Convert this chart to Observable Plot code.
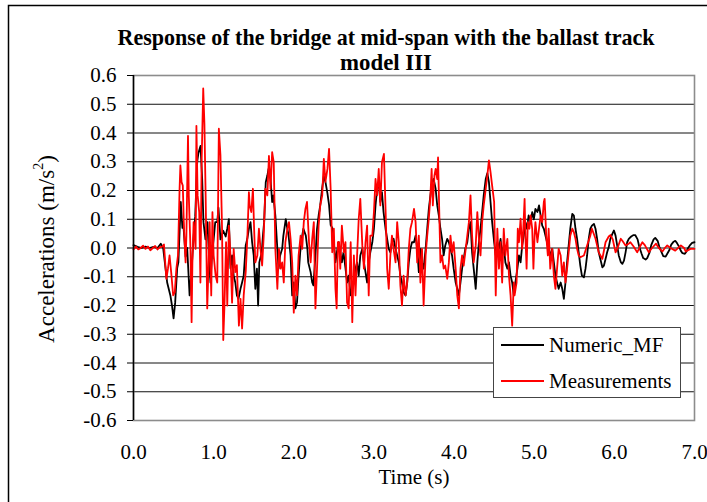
<!DOCTYPE html>
<html><head><meta charset="utf-8">
<script src="https://cdn.jsdelivr.net/npm/d3@7"></script>
<script src="https://cdn.jsdelivr.net/npm/@observablehq/plot@0.6"></script>
<style>html,body{margin:0;padding:0;background:#fff;} #chart{width:707px;height:502px;overflow:hidden;}</style>
</head><body><div id="chart"></div>
<script>
const titleLines = ["Response of the bridge at mid-span with the ballast track", "model III"];
const xLabel = "Time (s)";
const yLabelMain = "Accelerations (m/s";
const yLabelSup = "2";
const seriesNames = ["Numeric_MF", "Measurements"];
const seriesColors = ["#000000", "#ff0000"];
const xTicks = [0, 1, 2, 3, 4, 5, 6, 7];
const yTicks = [-0.6, -0.5, -0.4, -0.3, -0.2, -0.1, 0, 0.1, 0.2, 0.3, 0.4, 0.5, 0.6];
const gridValues = [-0.5, -0.4, -0.3, -0.2, -0.1, 0, 0.1, 0.2, 0.3, 0.4, 0.5];

// [time (s), acceleration (m/s^2)]
const numericMF = [
[0,0.01],[0.05,0.004],[0.1,0.0],[0.15,0.005],[0.2,0.0],[0.25,0.004],[0.3,0.0],[0.34,0.015],[0.37,0.0],
[0.42,-0.12],[0.46,-0.165],[0.48,-0.2],[0.5,-0.245],[0.52,-0.19],[0.545,-0.07],[0.56,-0.05],[0.59,0.16],[0.61,0.07],[0.62,0.09],[0.65,-0.03],[0.67,0.0],[0.70,-0.165],[0.73,-0.05],[0.75,0.04],[0.77,0.11],[0.795,0.30],[0.81,0.33],[0.836,0.355],[0.857,0.24],[0.873,0.09],[0.898,0.03],[0.923,0.09],[0.945,-0.05],[0.96,-0.12],[0.98,-0.02],[1.0,0.03],[1.02,0.09],[1.045,0.09],[1.06,0.14],[1.085,0.03],[1.12,0.06],[1.15,0.04],[1.17,0.067],[1.19,0.10],[1.21,-0.07],[1.23,-0.026],[1.25,-0.096],[1.27,-0.12],[1.29,-0.165],[1.31,-0.177],[1.335,-0.142],[1.355,-0.12],[1.375,-0.096],[1.40,0.009],[1.42,0.032],[1.44,0.067],[1.46,0.09],[1.48,0.02],[1.50,-0.026],[1.52,-0.142],[1.54,-0.072],[1.555,-0.20],[1.57,-0.05],[1.60,-0.015],[1.615,0.043],[1.63,0.09],[1.65,0.229],[1.67,0.252],[1.685,0.275],[1.71,0.24],[1.73,0.16],[1.745,0.183],[1.77,0.113],[1.79,0.02],[1.81,-0.072],[1.83,-0.026],[1.855,-0.003],[1.87,0.043],[1.90,0.10],[1.92,0.067],[1.935,0.043],[1.96,-0.026],[1.98,-0.165],[2.0,-0.12],[2.02,-0.21],[2.04,-0.19],[2.06,-0.096],[2.08,-0.015],[2.105,0.043],[2.12,0.067],[2.15,0.043],[2.17,-0.003],[2.18,-0.05],[2.21,-0.084],[2.23,-0.12],[2.245,-0.13],[2.27,-0.026],[2.29,0.067],[2.31,0.113],[2.33,0.148],[2.355,0.21],[2.375,0.25],[2.395,0.23],[2.42,0.19],[2.44,0.15],[2.46,0.08],[2.48,0.07],[2.50,0.02],[2.52,-0.05],[2.54,-0.01],[2.56,0.02],[2.58,-0.015],[2.60,-0.05],[2.62,-0.015],[2.645,-0.07],[2.665,-0.12],[2.685,-0.096],[2.71,-0.165],[2.73,-0.142],[2.75,-0.12],[2.77,-0.072],[2.79,-0.05],[2.81,-0.096],[2.83,-0.026],[2.855,-0.003],[2.875,-0.05],[2.895,-0.084],[2.915,-0.12],[2.935,-0.05],[2.955,-0.015],[2.98,0.02],[3.0,0.067],[3.02,0.148],[3.04,0.206],[3.06,0.229],[3.08,0.16],[3.10,0.194],[3.12,0.125],[3.145,0.067],[3.165,0.032],[3.185,-0.003],[3.205,-0.015],[3.225,0.02],[3.245,0.032],[3.27,-0.003],[3.29,-0.026],[3.31,-0.05],[3.33,-0.096],[3.35,-0.12],[3.37,-0.154],[3.395,-0.165],[3.415,-0.12],[3.435,-0.05],[3.455,-0.003],[3.475,0.02],[3.50,0.02],[3.52,0.043],[3.54,-0.003],[3.56,-0.084],[3.58,-0.003],[3.60,-0.05],[3.62,-0.072],[3.645,-0.003],[3.665,0.067],[3.685,0.136],[3.705,0.183],[3.725,0.229],[3.745,0.24],[3.77,0.206],[3.79,0.148],[3.81,0.113],[3.83,0.067],[3.85,0.032],[3.87,-0.026],[3.89,0.009],[3.915,0.032],[3.935,0.02],[3.955,-0.003],[3.975,-0.026],[3.995,-0.072],[4.02,-0.12],[4.04,-0.142],[4.06,-0.165],[4.08,-0.12],[4.10,-0.072],[4.12,-0.038],[4.14,-0.003],[4.165,0.02],[4.185,0.067],[4.205,0.09],[4.225,-0.015],[4.245,-0.072],[4.27,-0.142],[4.29,-0.05],[4.31,0.02],[4.33,0.067],[4.35,0.125],[4.37,0.183],[4.395,0.24],[4.415,0.26],[4.435,0.229],[4.455,0.16],[4.475,0.09],[4.50,0.02],[4.52,-0.026],[4.54,0.02],[4.56,-0.003],[4.58,0.032],[4.60,-0.026],[4.62,0.009],[4.64,-0.05],[4.665,-0.072],[4.685,-0.05],[4.705,-0.096],[4.725,-0.12],[4.745,-0.165],[4.765,-0.12],[4.79,-0.072],[4.81,-0.026],[4.83,-0.05],[4.85,0.009],[4.87,0.043],[4.89,0.09],[4.91,0.067],[4.93,0.113],[4.955,0.09],[4.975,0.125],[4.995,0.10],[5.015,0.136],[5.04,0.125],[5.06,0.148],[5.08,0.113],[5.10,0.078],[5.12,0.067],[5.14,0.043],[5.16,0.02],[5.18,-0.003],[5.20,-0.026],[5.225,-0.003],[5.245,-0.05],[5.265,-0.096],[5.285,-0.12],[5.305,-0.142],[5.33,-0.12],[5.35,-0.142],[5.37,-0.177],[5.39,-0.12],[5.41,-0.05],[5.43,0.009],[5.45,0.067],[5.475,0.119],[5.495,0.113],[5.515,0.067],[5.535,0.032],[5.555,-0.015],[5.575,-0.061],[5.595,-0.096],[5.62,-0.102],[5.64,-0.072],[5.66,-0.026],[5.68,0.032],[5.70,0.067],[5.72,0.078],[5.745,0.084],[5.765,0.067],[5.785,0.032],[5.805,-0.015],[5.825,-0.038],[5.85,-0.067],[5.87,-0.061],[5.89,-0.038],[5.91,-0.015],[5.93,0.003],[5.95,0.032],[5.975,0.049],[5.995,0.061],[6.015,0.043],[6.035,0.009],[6.055,-0.026],[6.08,-0.049],[6.10,-0.055],[6.12,-0.044],[6.14,-0.015],[6.16,0.02],[6.18,0.032],[6.21,0.04],[6.24,0.045],[6.26,0.045],[6.29,0.03],[6.31,0.005],[6.34,-0.02],[6.36,-0.035],[6.39,-0.04],[6.41,-0.035],[6.44,-0.015],[6.46,0.01],[6.49,0.03],[6.51,0.035],[6.54,0.025],[6.56,0.005],[6.59,-0.015],[6.61,-0.028],[6.64,-0.03],[6.66,-0.02],[6.69,-0.005],[6.71,0.012],[6.74,0.022],[6.76,0.025],[6.78,0.018],[6.81,0.003],[6.83,-0.01],[6.85,-0.018],[6.88,-0.02],[6.90,-0.012],[6.92,0.0],[6.95,0.012],[6.97,0.018],[7.0,0.02]
];

const measurements = [
[0,-0.005],[0.03,0.005],[0.06,-0.005],[0.09,0.0],[0.12,0.008],[0.15,-0.003],[0.18,0.005],[0.21,-0.008],[0.24,0.0],[0.27,0.007],[0.30,-0.005],[0.33,0.003],[0.36,0.005],[0.38,0.012],
[0.41,-0.107],[0.43,-0.072],[0.45,-0.026],[0.47,-0.084],[0.495,-0.165],[0.515,-0.154],[0.535,-0.072],[0.555,-0.026],[0.575,0.206],[0.585,0.287],[0.60,0.229],[0.615,0.217],[0.63,0.067],[0.65,-0.05],[0.66,0.043],[0.68,0.39],[0.69,0.183],[0.71,0.009],[0.725,-0.258],[0.735,-0.05],[0.75,0.09],[0.775,-0.003],[0.785,0.425],[0.80,0.183],[0.82,0.125],[0.835,-0.12],[0.85,0.30],[0.87,0.555],[0.885,0.43],[0.90,0.183],[0.92,-0.21],[0.935,-0.072],[0.95,0.09],[0.97,-0.165],[0.985,0.125],[1.0,-0.026],[1.025,-0.096],[1.045,-0.12],[1.065,0.415],[1.085,0.322],[1.105,0.067],[1.12,-0.32],[1.135,-0.20],[1.155,0.02],[1.17,-0.2],[1.19,0.078],[1.21,-0.026],[1.23,-0.19],[1.25,-0.003],[1.27,-0.084],[1.29,-0.06],[1.315,-0.27],[1.335,-0.177],[1.355,-0.28],[1.375,-0.165],[1.40,-0.084],[1.42,0.032],[1.44,0.194],[1.45,0.148],[1.47,0.125],[1.49,0.206],[1.505,0.067],[1.52,-0.05],[1.545,-0.026],[1.565,0.067],[1.585,-0.003],[1.605,-0.061],[1.625,0.043],[1.645,0.206],[1.67,0.183],[1.69,0.32],[1.71,0.206],[1.73,0.333],[1.75,0.298],[1.77,-0.003],[1.795,-0.142],[1.815,-0.003],[1.835,-0.072],[1.855,-0.05],[1.875,-0.12],[1.895,0.02],[1.92,0.067],[1.94,0.09],[1.96,0.032],[1.98,-0.05],[2.0,-0.225],[2.02,-0.096],[2.04,-0.165],[2.06,-0.026],[2.085,0.043],[2.105,-0.003],[2.125,0.09],[2.145,0.136],[2.165,0.16],[2.19,0.02],[2.21,-0.05],[2.23,0.032],[2.25,0.09],[2.27,-0.21],[2.29,-0.072],[2.31,0.078],[2.33,0.148],[2.355,0.183],[2.375,0.31],[2.395,0.23],[2.42,0.275],[2.44,0.345],[2.46,0.206],[2.48,-0.015],[2.50,0.067],[2.52,-0.142],[2.535,-0.21],[2.55,0.02],[2.565,0.02],[2.58,-0.072],[2.60,0.078],[2.625,-0.015],[2.645,0.02],[2.665,-0.19],[2.685,-0.21],[2.71,0.02],[2.73,-0.258],[2.75,-0.026],[2.77,-0.165],[2.79,-0.026],[2.81,0.10],[2.83,0.171],[2.855,0.009],[2.875,-0.072],[2.895,0.02],[2.915,0.078],[2.935,-0.165],[2.955,0.043],[2.98,0.043],[3.0,0.125],[3.02,0.24],[3.04,0.183],[3.06,0.275],[3.08,0.148],[3.10,0.298],[3.125,0.327],[3.145,0.136],[3.165,-0.072],[3.185,-0.142],[3.205,-0.026],[3.225,0.043],[3.245,-0.003],[3.27,-0.05],[3.29,0.09],[3.31,0.02],[3.33,-0.13],[3.35,-0.20],[3.37,-0.096],[3.395,-0.165],[3.415,-0.12],[3.435,-0.003],[3.455,0.067],[3.475,0.09],[3.50,0.136],[3.52,0.09],[3.54,-0.05],[3.56,0.043],[3.58,-0.12],[3.60,-0.003],[3.62,-0.20],[3.645,-0.026],[3.665,0.043],[3.685,0.102],[3.705,0.183],[3.72,0.275],[3.735,0.148],[3.755,0.252],[3.77,0.275],[3.79,0.24],[3.80,0.315],[3.82,0.067],[3.83,-0.05],[3.85,-0.026],[3.87,-0.072],[3.89,-0.061],[3.915,-0.107],[3.935,-0.05],[3.955,0.043],[3.975,-0.015],[3.995,0.02],[4.02,-0.072],[4.04,-0.165],[4.06,-0.21],[4.08,-0.072],[4.10,-0.026],[4.12,-0.061],[4.14,-0.015],[4.165,0.043],[4.185,0.09],[4.205,0.183],[4.225,0.043],[4.245,-0.05],[4.27,0.009],[4.29,0.125],[4.31,0.032],[4.33,-0.026],[4.35,0.09],[4.37,0.148],[4.395,0.206],[4.415,0.252],[4.435,0.305],[4.455,0.264],[4.475,0.217],[4.50,0.16],[4.52,-0.165],[4.54,0.067],[4.56,-0.072],[4.58,0.02],[4.60,-0.12],[4.62,0.067],[4.64,-0.026],[4.665,0.032],[4.685,-0.096],[4.705,-0.165],[4.725,-0.27],[4.745,-0.12],[4.755,-0.165],[4.78,-0.12],[4.795,0.067],[4.81,0.02],[4.83,0.102],[4.85,-0.003],[4.86,0.043],[4.88,0.171],[4.89,0.043],[4.905,-0.072],[4.92,0.09],[4.94,0.067],[4.955,0.113],[4.975,0.067],[4.99,-0.072],[5.005,0.043],[5.015,0.09],[5.04,0.02],[5.06,0.067],[5.08,0.113],[5.10,0.09],[5.12,0.16],[5.13,0.171],[5.15,0.043],[5.17,-0.026],[5.18,0.067],[5.20,-0.072],[5.225,-0.003],[5.245,-0.096],[5.265,-0.142],[5.285,-0.072],[5.305,-0.003],[5.33,-0.026],[5.35,-0.096],[5.37,-0.05],[5.39,-0.12],[5.41,-0.072],[5.43,-0.015],[5.45,0.043],[5.475,0.067],[5.495,0.055],[5.515,0.032],[5.535,-0.003],[5.555,-0.026],[5.575,-0.032],[5.62,-0.026],[5.66,0.009],[5.70,0.043],[5.72,0.067],[5.765,0.032],[5.805,-0.015],[5.85,-0.038],[5.89,0.02],[5.93,0.04],[5.95,0.045],[5.98,0.03],[6.015,-0.015],[6.04,0.0],[6.08,0.032],[6.10,0.025],[6.14,0.009],[6.18,0.015],[6.20,0.02],[6.24,0.005],[6.285,-0.015],[6.32,0.005],[6.35,0.02],[6.38,0.01],[6.43,-0.015],[6.47,0.0],[6.52,0.015],[6.555,0.0],[6.60,-0.012],[6.63,0.0],[6.66,0.009],[6.70,0.0],[6.76,-0.009],[6.83,0.009],[6.87,0.0],[6.89,-0.012],[6.95,-0.003],[7.0,-0.003]
];

const FONT = "'Liberation Serif', 'Times New Roman', Times, serif";
const fmt = d => (Math.abs(d) < 1e-9 ? 0 : d).toFixed(1);

const chart = Plot.plot({
  width: 707, height: 502,
  marginLeft: 133, marginRight: 13, marginTop: 75, marginBottom: 82,
  style: {fontFamily: FONT, fontSize: "21px", background: "transparent", overflow: "visible", color: "#000"},
  x: {domain: [0, 7]},
  y: {domain: [-0.6, 0.6]},
  marks: [
    Plot.ruleY(gridValues, {stroke: "#111", strokeWidth: 1}),
    Plot.frame({stroke: "#8c8c8c", strokeWidth: 1.6}),
    Plot.line(numericMF, {x: d => d[0], y: d => d[1], stroke: seriesColors[0], strokeWidth: 1.8}),
    Plot.line(measurements, {x: d => d[0], y: d => d[1], stroke: seriesColors[1], strokeWidth: 1.8}),
    Plot.ruleX([0], {stroke: "#000", strokeWidth: 1.5}),
    Plot.axisY(yTicks, {tickSize: 6, tickPadding: 11, tickFormat: fmt, label: null, fontSize: 21}),
    Plot.axisX(xTicks, {tickSize: 0, tickPadding: 24, tickFormat: fmt, label: null, fontSize: 21})
  ]
});
document.getElementById("chart").appendChild(chart);

const svg = d3.select(chart);
svg.selectAll("text").style("font-family", FONT);

function addText(parent, x, y, str, size, anchor, bold) {
  return parent.append("text").attr("x", x).attr("y", y)
    .style("font-family", FONT).style("font-size", size + "px")
    .style("font-weight", bold ? "bold" : "normal")
    .attr("text-anchor", anchor).attr("fill", "#000").text(str);
}

// outer chart-area border
svg.append("path").attr("d", "M8.5,510V5.5H720").attr("fill", "none").attr("stroke", "#000").attr("stroke-width", 1.5);

// title
addText(svg, 386, 45, titleLines[0], 23, "middle", true).attr("textLength", 537).attr("lengthAdjust", "spacingAndGlyphs");
addText(svg, 386, 70, titleLines[1], 23, "middle", true).attr("textLength", 92).attr("lengthAdjust", "spacingAndGlyphs");

// axis titles
addText(svg, 414, 484, xLabel, 21, "middle", false);
const yl = svg.append("text").attr("transform", "translate(54,249) rotate(-90)").attr("text-anchor", "middle")
  .style("font-family", FONT).style("font-size", "23px").attr("fill", "#000");
yl.append("tspan").text(yLabelMain);
yl.append("tspan").style("font-size", "14px").attr("dy", -11).text(yLabelSup);
yl.append("tspan").attr("dy", 11).text(")");

// legend
const lg = svg.append("g");
lg.append("rect").attr("x", 493.5).attr("y", 327.5).attr("width", 187).attr("height", 70)
  .attr("fill", "#fff").attr("stroke", "#444").attr("stroke-width", 1);
seriesNames.forEach((name, i) => {
  const y = 345 + i * 36;
  lg.append("line").attr("x1", 501).attr("x2", 544).attr("y1", y).attr("y2", y)
    .attr("stroke", seriesColors[i]).attr("stroke-width", 1.8);
  addText(lg, 549, y + 7, name, 21, "start", false);
});
</script>
</body></html>
